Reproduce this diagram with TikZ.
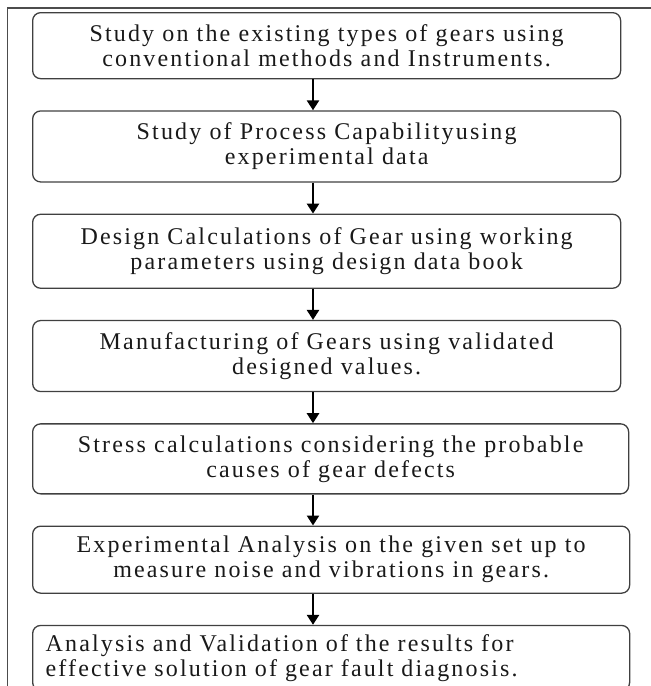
\documentclass[tikz,border=0pt]{standalone}
\usepackage{fontspec}
\setmainfont{Liberation Serif}[LetterSpace=9]
\usetikzlibrary{positioning,arrows.meta}

\begin{document}
\begin{tikzpicture}[x=1pt,y=1pt,
        main/.style = {draw=black!75, line width=1.3pt, rounded corners=8pt, anchor=north west,
                       align=center, inner sep=6pt, font=\fontsize{24}{25}\selectfont, text=black!90},
        flow/.style = {line width=2.6pt, -{Triangle[width=12pt,length=10pt]}},
        node distance=31pt]
        \useasboundingbox (0,0) rectangle (651,-686);
        \draw[black!70, line width=1.2pt] (7.5,-686) -- (7.5,-8) -- (651,-8);

        \node[main, minimum width=588pt, minimum height=66pt] (1) at (32,-12)
            {Study on the existing types of gears using\\conventional methods and Instruments.};
        \node[main, minimum width=588pt, minimum height=71pt] (2) [below=of 1.south west, anchor=north west]
            {Study of Process Capabilityusing\\experimental data};
        \node[main, minimum width=588pt, minimum height=74pt] (3) [below=of 2.south west, anchor=north west]
            {Design Calculations of Gear using working\\parameters using design data book};
        \node[main, minimum width=588pt, minimum height=71pt] (4) [below=of 3.south west, anchor=north west]
            {Manufacturing of Gears using validated\\designed values.};
        \node[main, minimum width=596pt, minimum height=70pt] (5) [below=of 4.south west, anchor=north west]
            {Stress calculations considering the probable\\causes of gear defects};
        \node[main, minimum width=597pt, minimum height=67pt] (6) [below=of 5.south west, anchor=north west]
            {Experimental Analysis on the given set up to\\measure noise and vibrations in gears.};
        \node[main, minimum width=597pt, minimum height=65pt, align=left, inner xsep=13pt, text width=571pt] (7) [below=of 6.south west, anchor=north west]
            {Analysis and Validation of the results for\\effective solution of gear fault diagnosis.};

        \coordinate (ax) at (313,0);
        \draw[flow] (1.south -| ax) -- (2.north -| ax);
        \draw[flow] (2.south -| ax) -- (3.north -| ax);
        \draw[flow] (3.south -| ax) -- (4.north -| ax);
        \draw[flow] (4.south -| ax) -- (5.north -| ax);
        \draw[flow] (5.south -| ax) -- (6.north -| ax);
        \draw[flow] (6.south -| ax) -- (7.north -| ax);
\end{tikzpicture}
\end{document}
